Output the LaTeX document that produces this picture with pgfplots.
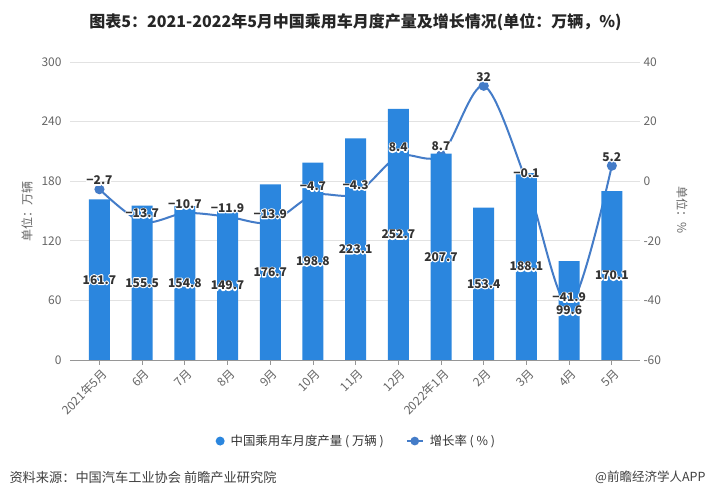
\documentclass[border=0pt]{standalone}
\usepackage{pgfplots}
\pgfplotsset{compat=1.18}
\usepackage{pgfplotstable}
\usepackage{fontspec}
\setmainfont{Noto Sans CJK SC}

\definecolor{barblue}{RGB}{43,134,222}
\definecolor{lineblue}{RGB}{68,124,200}
\definecolor{ticktxt}{RGB}{102,102,102}
\definecolor{labtxt}{RGB}{51,51,51}
\definecolor{gridc}{RGB}{226,226,226}
\definecolor{axisc}{RGB}{150,150,150}

% white outline behind a label: stroked copy, then the normal text
\newcommand\halo[1]{\leavevmode\rlap{\special{pdf:literal direct 1 Tr 2.2 w 1 j 1 1 1 RG}#1\special{pdf:literal direct 0 Tr}}#1}

% month, production (10k vehicles), growth rate (%), label text
\pgfplotstableread{
x  prod   rate   lab
0  161.7  -2.7   −2.7
1  155.5  -13.7  −13.7
2  154.8  -10.7  −10.7
3  149.7  -11.9  −11.9
4  176.7  -13.9  −13.9
5  198.8  -4.7   −4.7
6  223.1  -4.3   −4.3
7  252.7  8.4    8.4
8  207.7  8.7    8.7
9  153.4  32     32
10 188.1  -0.1   −0.1
11 99.6   -41.9  −41.9
12 170.1  5.2    5.2
}\chartdata

\tikzset{vlab/.style={font=\bfseries\fontsize{12bp}{12bp}\selectfont, text=labtxt, inner sep=2bp}}
\pgfplotsset{
  frame/.style={
    at={(70bp,138bp)}, anchor=south west, scale only axis,
    width=570bp, height=298bp,
    xmin=-0.69, xmax=12.66,
    ticklabel style={font=\fontsize{12bp}{12bp}\selectfont, text=ticktxt},
    /pgf/number format/assume math mode=true,
  },
}

\begin{document}
\begin{tikzpicture}[x=1bp,y=1bp]
\useasboundingbox[fill=white] (0,0) rectangle (711,498);

% growth rate line (right axis, behind the bars)
\begin{axis}[frame,
  ymin=-60, ymax=40, ytick={-60,-40,...,40},
  yticklabel pos=right,
  axis line style={draw=none}, xtick=\empty, ytick style={draw=none},
  ymajorgrids, grid style={gridc, line width=0.8bp}]
\addplot[lineblue, line width=2bp, smooth, tension=0.5,
  mark=*, mark size=4bp, mark options={fill=lineblue, solid}]
  table[x=x, y=rate]{\chartdata};
\end{axis}

% production bars (left axis)
\begin{axis}[frame,
  ymin=0, ymax=300, ytick={0,60,...,300},
  axis x line*=bottom, axis y line*=left,
  x axis line style={axisc, line width=0.8bp, -},
  y axis line style={draw=none},
  ytick style={draw=none},
  xtick={0,...,12},
  xticklabels={2021年5月,6月,7月,8月,9月,10月,11月,12月,2022年1月,2月,3月,4月,5月},
  xtick style={axisc, line width=0.8bp},
  tick align=outside, major tick length=5bp,
  xticklabel style={rotate=45, anchor=north east, inner sep=1bp, yshift=-2bp},
  legend style={at={(0.5024,-0.272)}, anchor=center, draw=none, fill=none,
    legend columns=2,
    nodes={font=\fontsize{12.4bp}{13bp}\selectfont, text=labtxt},
    /tikz/every even column/.append style={column sep=20bp}},
  legend cell align=left,
  ]
\addplot[ybar, bar width=21bp, fill=barblue, draw=none,
  point meta=explicit symbolic,
  visualization depends on={y \as \rawy},
  nodes near coords={\halo{\pgfplotspointmeta}},
  every node near coord/.append style={vlab, anchor=center,
    shift={(axis direction cs:0,-\rawy/2)}},
  legend image code/.code={\fill[barblue] (0,0) circle (4.5bp);}]
  table[x=x, y=prod, meta=prod]{\chartdata};
\addlegendentry{\hspace{4bp}中国乘用车月度产量 ( 万辆 )}
\addlegendimage{lineblue, line width=2bp, mark=*, mark size=3.5bp,
  legend image code/.code={\draw[lineblue, line width=2bp] (0,0) -- (16bp,0);
    \fill[lineblue] (8bp,0) circle (3.3bp);}}
\addlegendentry{\hspace{4bp}增长率 ( \% )}
\end{axis}

% growth rate labels on top of everything
\begin{axis}[frame, ymin=-60, ymax=40, hide axis]
\addplot[draw=none, mark=none,
  point meta=explicit symbolic,
  nodes near coords={\halo{\pgfplotspointmeta}},
  every node near coord/.append style={vlab, anchor=south, yshift=2bp}]
  table[x=x, y=rate, meta=lab]{\chartdata};
\end{axis}

\node[font=\bfseries\fontsize{16bp}{16bp}\selectfont, text=black!85] at (355.5,476) {图表5：2021-2022年5月中国乘用车月度产量及增长情况(单位：万辆，\%)};
\node[rotate=90, font=\fontsize{12bp}{12bp}\selectfont, text=ticktxt] at (27,286) {单位：万辆};
\node[rotate=-90, font=\fontsize{12bp}{12bp}\selectfont, text=ticktxt] at (682,288) {单位：\%};
\node[anchor=west, font=\fontsize{13.2bp}{14bp}\selectfont, text=black!75] at (6,21) {资料来源：中国汽车工业协会 前瞻产业研究院};
\node[anchor=east, font=\fontsize{12.5bp}{13bp}\selectfont, text=black!75] at (709,21) {@前瞻经济学人APP};
\end{tikzpicture}
\end{document}
